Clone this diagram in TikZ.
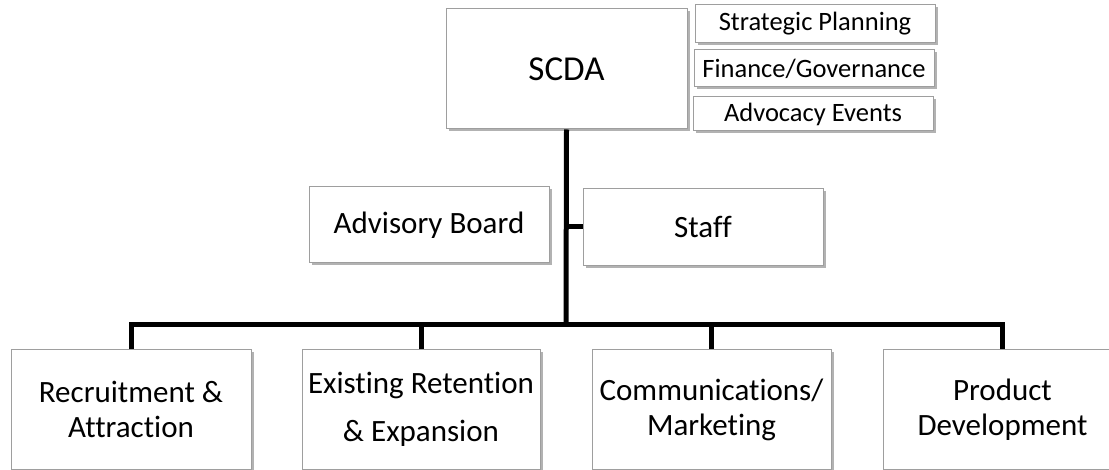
\documentclass[tikz,border=0pt]{standalone}
\usepackage{fontspec}
\setmainfont[RawFeature={-liga;-clig;-dlig}]{Carlito}
\usetikzlibrary{shadows}
\begin{document}
\begin{tikzpicture}[x=1pt,y=-1pt,
  box/.style={draw=black!38, line width=1pt, fill=white, rectangle, align=center,
    inner sep=0pt, text=black,
    drop shadow={shadow xshift=2.5pt, shadow yshift=-2.5pt, opacity=0.3, fill=black}},
  bigtxt/.style={font=\fontsize{31}{35}\selectfont},
  smalltxt/.style={font=\fontsize{26.5}{30}\selectfont},
  conn/.style={line width=5pt, draw=black, line join=miter, line cap=butt}]
\useasboundingbox (0,0) rectangle (1109,470);
\clip (0,0) rectangle (1109,470);
\fill[white] (0,0) rectangle (1109,470);

% top
\node[box, minimum width=241pt, minimum height=120pt, font=\fontsize{35}{40}\selectfont] (scda) at (566.5,69) {SCDA};
\node[box, smalltxt, minimum width=240pt, minimum height=38pt] (sp) at (815,24) {Strategic Planning};
\node[box, smalltxt, minimum width=240pt, minimum height=37pt] (fg) at (814,68.5) {Finance/Governance};
\node[box, smalltxt, minimum width=240pt, minimum height=34pt] (ae) at (813,114) {Advocacy Events};

% middle
\node[box, bigtxt, minimum width=240pt, minimum height=76pt] (ab) at (429,225) {Advisory Board};
\node[box, bigtxt, minimum width=240pt, minimum height=77pt] (staff) at (703,227) {Staff};

% bottom
\node[box, bigtxt, minimum width=240pt, minimum height=119pt] (rec) at (131,409.5) {Recruitment \&\\Attraction};
\node[box, font=\fontsize{31}{48}\selectfont, minimum width=238pt, minimum height=119pt] (ext) at (421,409.5) {Existing Retention\\\& Expansion};
\node[box, bigtxt, minimum width=239pt, minimum height=119pt] (com) at (711.5,409.5) {Communications/\\Marketing};
\node[box, bigtxt, minimum width=239pt, minimum height=119pt] (prod) at (1002.5,409.5) {Product\\Development};

\coordinate (bus) at (566,325);

% connectors
\draw[conn] (scda.south) -- (bus);
\draw[conn] (staff.west) -- (staff.west -| scda.south);
\draw[conn] (rec.north) |- (bus) -| (prod.north);
\draw[conn] (ext.north) -- (ext.north |- bus);
\draw[conn] (com.north) -- (com.north |- bus);
\end{tikzpicture}
\end{document}
